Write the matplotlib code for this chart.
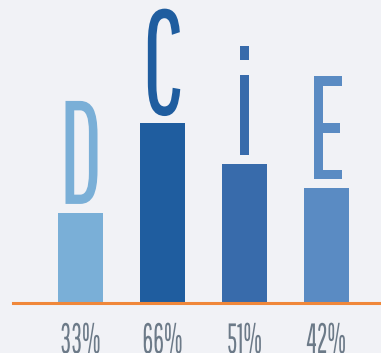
import matplotlib
matplotlib.use("Agg")
import matplotlib.pyplot as plt
from matplotlib.font_manager import FontProperties
from matplotlib.patheffects import AbstractPathEffect
from matplotlib.textpath import TextPath
from matplotlib.transforms import Affine2D

# DiSC profile scores
letters = ["D", "C", "i", "E"]
scores = [33, 66, 51, 42]
labels = ["33%", "66%", "51%", "42%"]
colors = ["#7aafd7", "#1f5d9f", "#386bab", "#5a8bc3"]

FONT = "Pathway Gothic One"
DPI = 100
W, H = 381, 353


class Squash(AbstractPathEffect):
    """Narrow the glyph outlines horizontally around their centre."""

    def __init__(self, sx):
        super().__init__()
        self.sx = sx

    def draw_path(self, renderer, gc, tpath, affine, rgbFace=None):
        ext = tpath.get_extents(affine)
        cx = (ext.x0 + ext.x1) / 2
        squash = affine + Affine2D().translate(-cx, 0).scale(self.sx, 1).translate(cx, 0)
        renderer.draw_path(gc, tpath, squash, rgbFace)


def fit_font(sample, cap_px, width_px):
    # font size (pt) giving the wanted glyph height, plus the squash factor for the width
    ext = TextPath((0, 0), sample, size=100, prop=FontProperties(family=FONT)).get_extents()
    size_px = 100 * cap_px / ext.height
    natural_w = ext.width * size_px / 100
    return size_px * 72 / DPI, width_px / natural_w


big_size, big_sx = fit_font("D", 103, 32)
small_size, small_sx = fit_font("33%", 31, 38)

bg = "#f1f2f6"
fig = plt.figure(figsize=(W / DPI, H / DPI), dpi=DPI, facecolor=bg)
ax = fig.add_axes([13 / W, 50 / H, 1 - 13 / W, 303 / H])
ax.set_facecolor(bg)

x = list(range(len(scores)))
ax.bar(x, scores, width=0.55, color=colors, zorder=2)
ax.set_xlim(-0.823, 3.665)
ax.set_ylim(0, 111)

for s in ["top", "right", "left"]:
    ax.spines[s].set_visible(False)
ax.spines["bottom"].set_color("#f0873a")
ax.spines["bottom"].set_linewidth(2.2)
ax.spines["bottom"].set_zorder(3)
ax.set_xticks([])
ax.set_yticks([])

px = 72 / DPI
for xi, v, let, c, lab in zip(x, scores, letters, colors, labels):
    ax.annotate(let, (xi, v), xytext=(0, 9 * px), textcoords="offset points",
                ha="center", va="baseline", fontsize=big_size, family=FONT,
                color=c, path_effects=[Squash(big_sx)], annotation_clip=False)
    ax.annotate(lab, (xi, 0), xytext=(0, -50 * px), textcoords="offset points",
                ha="center", va="baseline", fontsize=small_size, family=FONT,
                color="#6c7a88", path_effects=[Squash(small_sx)], annotation_clip=False)

fig.savefig("out.png", dpi=DPI, facecolor=bg)
